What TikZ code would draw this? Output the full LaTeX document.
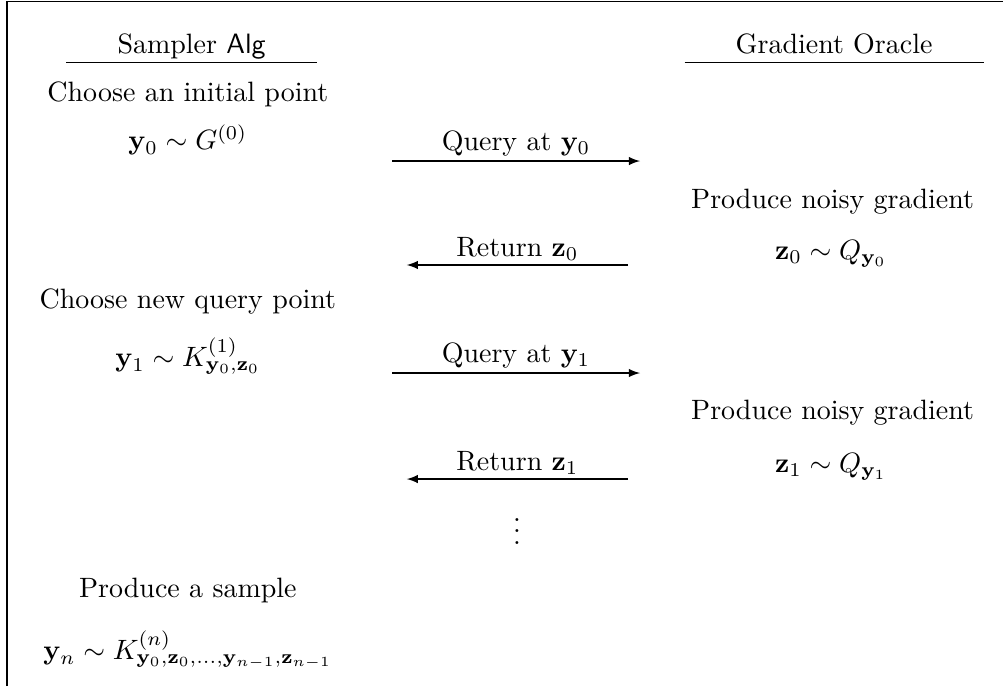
\documentclass[tikz,border=0pt]{standalone}
\usepackage{amsmath}
\usepackage{amssymb}
\usepackage{tikz}

\tikzset{
  hdr/.style={anchor=base,text depth=0pt,inner xsep=0pt,inner ysep=3pt},
  txt/.style={anchor=base},
  msg/.style={-latex},
  lbl/.style={above,inner sep=1.5pt}
}

\begin{document}
\begin{tikzpicture}
\useasboundingbox (0,0) rectangle (12.6,-8.618);
\draw[line width=0.6pt] (0.088,-8.618)--(0.088,-0.02)--(12.6,-0.02);

\node[hdr,minimum width=3.14cm] (sampler) at (2.41,-0.678) {Sampler $\mathsf{Alg}$};
\node[hdr,minimum width=3.744cm] (oracle) at (10.478,-0.678) {Gradient Oracle};
\draw (sampler.south west)--(sampler.south east);
\draw (oracle.south west)--(oracle.south east);

\node[txt] (choose0) at (2.36,-1.281) {Choose an initial point};
\node[txt] (y0) at (2.36,-1.884) {$\mathbf{y}_0\sim G^{(0)}$};
\node[txt] (noisy0) at (10.46,-2.613) {Produce noisy gradient};
\node[txt] (z0) at (10.44,-3.254) {$\mathbf{z}_0\sim Q_{\mathbf{y}_0}$};
\node[txt] (choose1) at (2.36,-3.88) {Choose new query point};
\node[txt] (y1) at (2.36,-4.61) {$\mathbf{y}_1\sim K^{(1)}_{\mathbf{y}_0,\mathbf{z}_0}$};
\node[txt] (noisy1) at (10.46,-5.276) {Produce noisy gradient};
\node[txt] (z1) at (10.44,-5.930) {$\mathbf{z}_1\sim Q_{\mathbf{y}_1}$};
\node (dots) at (6.495,-6.57) {$\vdots$};
\node[txt] (sample) at (2.36,-7.50) {Produce a sample};
\node[txt] (yn) at (2.36,-8.29) {$\mathbf{y}_n\sim K^{(n)}_{\mathbf{y}_0,\mathbf{z}_0,\dots,\mathbf{y}_{n-1},\mathbf{z}_{n-1}}$};

\coordinate (q0a) at (4.925,-2.023);
\coordinate (q0b) at (8.04,-2.023);
\coordinate (r0a) at (7.89,-3.329);
\coordinate (r0b) at (5.11,-3.329);
\coordinate (q1a) at (4.925,-4.686);
\coordinate (q1b) at (8.04,-4.686);
\coordinate (r1a) at (7.89,-6.018);
\coordinate (r1b) at (5.11,-6.018);

\draw[msg] (q0a) -- node[lbl] {Query at $\mathbf{y}_0$} (q0b);
\draw[msg] (r0a) -- node[lbl] {Return $\mathbf{z}_0$} (r0b);
\draw[msg] (q1a) -- node[lbl] {Query at $\mathbf{y}_1$} (q1b);
\draw[msg] (r1a) -- node[lbl] {Return $\mathbf{z}_1$} (r1b);
\end{tikzpicture}
\end{document}
